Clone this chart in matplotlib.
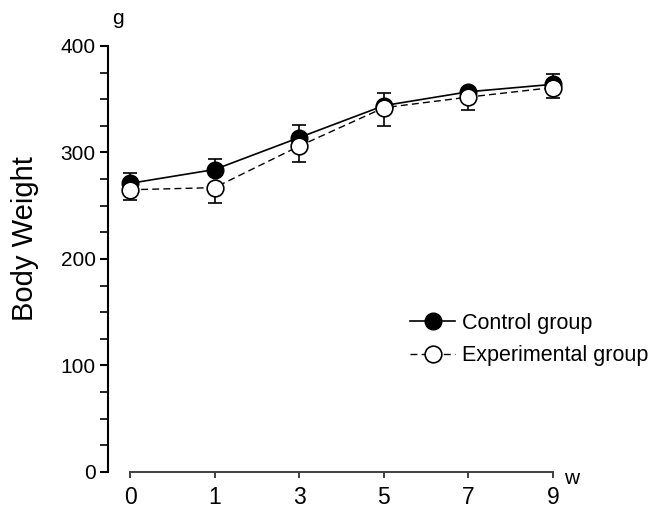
import matplotlib.pyplot as plt
import numpy as np

plt.rcParams['font.family'] = ['Liberation Sans', 'DejaVu Sans']

# weeks shown as evenly spaced categories
weeks = ['0', '1', '3', '5', '7', '9']
control_mean = [271, 284, 314, 344, 357, 364]
control_sd = [10, 10, 12, 12, 4, 10]
exper_mean = [265, 267, 306, 342, 352, 361]
exper_sd = [10, 14, 15, 17, 12, 10]

pos = np.arange(len(weeks))

fig = plt.figure(figsize=(6.5, 5.08), dpi=100)
ax = fig.add_axes([0.1662, 0.0709, 0.6846, 0.8386])

zeros = np.zeros(len(weeks))
# control: upper error bars only
eb1 = ax.errorbar(pos, control_mean, yerr=[zeros, control_sd], fmt='none', ecolor='black',
                  elinewidth=1.2, capsize=5, capthick=1.2, zorder=2)
ax.plot(pos, control_mean, '-', color='black', lw=1.2, marker='o', ms=12,
        mfc='black', mec='black', label='Control group', zorder=3, clip_on=False)
# experimental: lower error bars only
eb2 = ax.errorbar(pos, exper_mean, yerr=[exper_sd, zeros], fmt='none', ecolor='black',
                  elinewidth=1.2, capsize=5, capthick=1.2, zorder=2)
ax.plot(pos, exper_mean, '--', color='black', lw=1.0, dashes=(5, 3), marker='o', ms=12,
        mfc='white', mec='black', mew=1.2, label='Experimental group', zorder=4,
        clip_on=False)
for eb in (eb1, eb2):
    for art in eb.lines[1] + eb.lines[2]:
        art.set_clip_on(False)

ax.set_xlim(-0.26, 5)
ax.set_ylim(0, 400)
ax.set_xticks(pos)
ax.set_xticklabels(weeks)
ax.set_yticks([0, 100, 200, 300, 400])
ax.set_yticks(np.arange(0, 401, 25), minor=True)

for s in ['top', 'right']:
    ax.spines[s].set_visible(False)
ax.spines['bottom'].set_bounds(0, 5)
ax.spines['left'].set_linewidth(1.5)
ax.spines['bottom'].set_linewidth(1.4)
ax.spines['bottom'].set_color('#404040')
ax.tick_params(axis='y', which='major', direction='out', length=6, width=1.5,
               labelsize=15, pad=3)
ax.tick_params(axis='y', which='minor', direction='out', length=6, width=1.2)
ax.tick_params(axis='x', which='major', direction='out', length=4, width=1.4,
               color='#404040', labelsize=16.5, pad=6)

ax.set_ylabel('Body Weight', fontsize=21)
ax.yaxis.set_label_coords(-0.155, 0.547)
fig.text(118 / 650, 1 - 18 / 508, 'g', fontsize=15, ha='center', va='center')
fig.text(572 / 650, 1 - 478 / 508, 'w', fontsize=15, ha='center', va='center')

leg = ax.legend(loc='center left', bbox_to_anchor=(410 / 650, 1 - 339.5 / 508),
                bbox_transform=fig.transFigure, frameon=False, borderpad=0,
                borderaxespad=0, fontsize=15.5, handlelength=2.1, handletextpad=0.3,
                labelspacing=0.53)

fig.savefig('out.png', dpi=100)
